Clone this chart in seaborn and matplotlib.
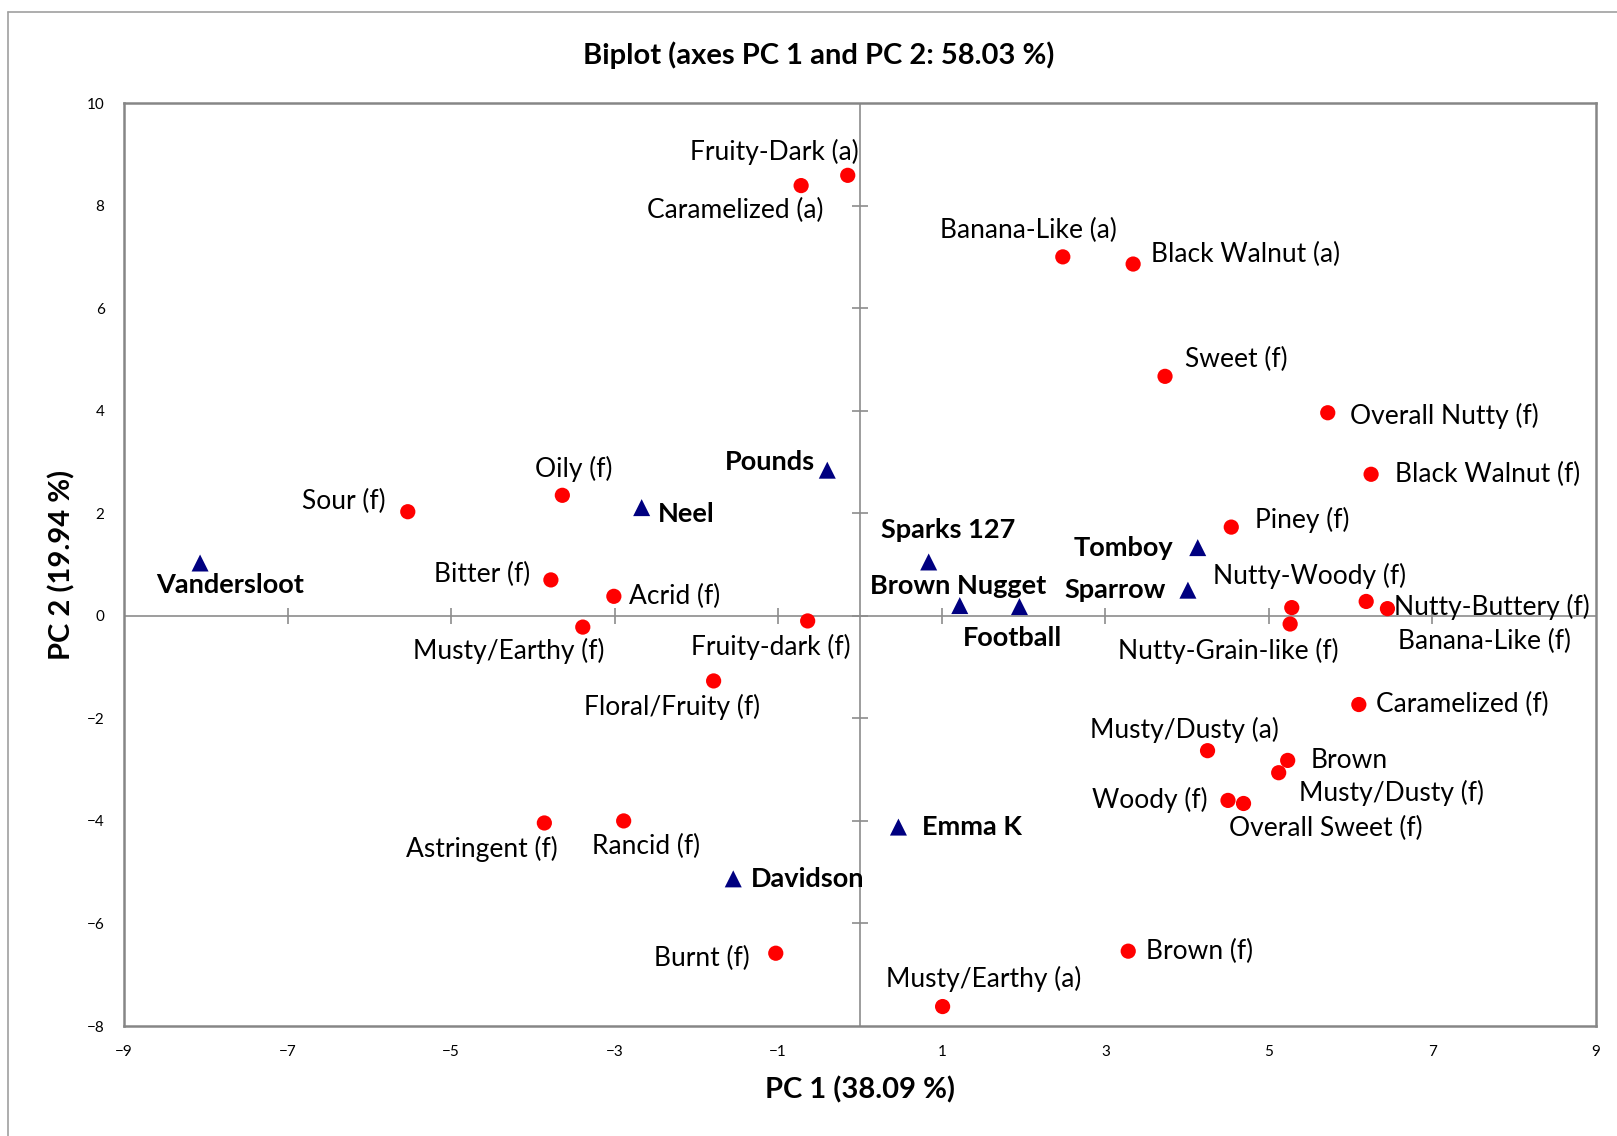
import seaborn as sns
import numpy as np
import pandas as pd
import matplotlib.pyplot as plt
from matplotlib.lines import Line2D

# 数据准备: 变量 (红点)
var_names = ['Fruity-Dark (a)', 'Caramelized (a)', 'Banana-Like (a)', 'Black Walnut (a)',
             'Sweet (f)', 'Overall Nutty (f)', 'Black Walnut (f)', 'Piney (f)',
             'Nutty-Woody (f)', 'Nutty-Grain-like (f)', 'Nutty-Buttery (f)', 'Banana-Like (f)',
             'Caramelized (f)', 'Musty/Dusty (a)', 'Brown', 'Musty/Dusty (f)',
             'Woody (f)', 'Overall Sweet (f)', 'Brown (f)', 'Musty/Earthy (a)',
             'Burnt (f)', 'Astringent (f)', 'Rancid (f)', 'Floral/Fruity (f)',
             'Fruity-dark (f)', 'Musty/Earthy (f)', 'Acrid (f)', 'Bitter (f)',
             'Oily (f)', 'Sour (f)']
var_pc1 = [-0.15, -0.72, 2.48, 3.34, 3.73, 5.72, 6.25, 4.54,
           5.28, 5.26, 6.19, 6.45, 6.10, 4.25, 5.23, 5.12,
           4.50, 4.69, 3.28, 1.01, -1.03, -3.86, -2.89, -1.79,
           -0.64, -3.39, -3.01, -3.78, -3.64, -5.53]
var_pc2 = [8.59, 8.39, 7.00, 6.86, 4.67, 3.96, 2.76, 1.73,
           0.16, -0.16, 0.28, 0.14, -1.73, -2.63, -2.82, -3.06,
           -3.60, -3.66, -6.54, -7.62, -6.58, -4.04, -4.00, -1.27,
           -0.10, -0.22, 0.38, 0.70, 2.35, 2.03]

# 数据准备: 品种 (蓝三角)
obs_names = ['Vandersloot', 'Neel', 'Pounds', 'Sparks 127', 'Brown Nugget',
             'Football', 'Tomboy', 'Sparrow', 'Emma K', 'Davidson']
obs_pc1 = [-8.07, -2.67, -0.40, 0.84, 1.22, 1.95, 4.13, 4.01, 0.47, -1.55]
obs_pc2 = [1.03, 2.11, 2.84, 1.05, 0.20, 0.18, 1.33, 0.50, -4.12, -5.13]

x_ticks = [-9, -7, -5, -3, -1, 1, 3, 5, 7, 9]
y_ticks = [-8, -6, -4, -2, 0, 2, 4, 6, 8, 10]

# 标签偏移 (像素)
var_off = [(-71, 23), (-64, -24), (-33, 26), (109, 9), (69, 16), (113, -3), (113, 0), (69, 7),
           (17, 31), (-60, -26), (122, -5), (94, -32), (100, 0), (-22, 20), (60, 0), (109, -20),
           (-76, 0), (80, -24), (69, 0), (40, 27), (-72, -5), (-61, -25), (22, -25), (-40, -25),
           (-36, -25), (-72, -23), (59, 0), (-67, 5), (11, 26), (-62, 10)]
obs_off = [(29, -21), (43, -6), (-56, 8), (19, 31), (-2, 19), (-7, -30), (-72, 0), (-71, 0),
           (71, 0), (72, 0)]

sns.set_style('white')
plt.rcParams['font.family'] = ['Lato', 'DejaVu Sans']
plt.rcParams['text.color'] = 'black'
plt.rcParams['axes.labelcolor'] = 'black'
plt.rcParams['xtick.color'] = 'black'
plt.rcParams['ytick.color'] = 'black'

fig = plt.figure(figsize=(16.17, 11.36), dpi=100)
ax = fig.add_axes([0.0767, 0.0968, 0.987 - 0.0767, 0.9093 - 0.0968])

df_var = pd.DataFrame({'pc1': var_pc1, 'pc2': var_pc2})
df_obs = pd.DataFrame({'pc1': obs_pc1, 'pc2': obs_pc2})

# 中心轴线
ax.axhline(0, color='#8c8c8c', lw=1.2, zorder=1)
ax.axvline(0, color='#8c8c8c', lw=1.2, zorder=1)
ax.plot(x_ticks[1:-1], [0] * (len(x_ticks) - 2), ls='none', marker='|', ms=12,
        mew=1.2, color='#8c8c8c', zorder=1)
ax.plot([0] * (len(y_ticks) - 2), y_ticks[1:-1], ls='none', marker='_', ms=12,
        mew=1.2, color='#8c8c8c', zorder=1)

sns.scatterplot(data=df_var, x='pc1', y='pc2', ax=ax, color='#ff0000', marker='o',
                s=120, edgecolor='none', zorder=3)
sns.scatterplot(data=df_obs, x='pc1', y='pc2', ax=ax, color='#000080', marker='^',
                s=150, edgecolor='none', zorder=3)

k = 1.031
for name, x, y, (dx, dy) in zip(var_names, var_pc1, var_pc2, var_off):
    ax.annotate(name, (x, y), xytext=(dx * k, dy * k), textcoords='offset pixels',
                ha='center', va='center', fontsize=19, color='black')
for name, x, y, (dx, dy) in zip(obs_names, obs_pc1, obs_pc2, obs_off):
    ax.annotate(name, (x, y), xytext=(dx * k, dy * k), textcoords='offset pixels',
                ha='center', va='center', fontsize=19.5, fontweight='bold', color='black')

ax.set_xlim(-9, 9)
ax.set_ylim(-8, 10)
ax.set_xticks(x_ticks)
ax.set_yticks(y_ticks)
ax.tick_params(length=0, labelsize=11, pad=14)
for sp in ax.spines.values():
    sp.set_color('#868686')
    sp.set_linewidth(1.8)

ax.set_xlabel('PC 1 (38.09 %)', fontsize=21, fontweight='bold', labelpad=12)
ax.set_ylabel('PC 2 (19.94 %)', fontsize=21, fontweight='bold', labelpad=8)
ax.set_title('Biplot (axes PC 1 and PC 2: 58.03 %)', fontsize=21, fontweight='bold',
             pad=28, x=0.472)

# 外框
fig.add_artist(Line2D([8 / 1617, 8 / 1617], [0, 1 - 12 / 1136], color='#a0a0a0', lw=1.2))
fig.add_artist(Line2D([8 / 1617, 1], [1 - 12 / 1136, 1 - 12 / 1136], color='#a0a0a0', lw=1.2))

fig.savefig('out.png', dpi=100)
